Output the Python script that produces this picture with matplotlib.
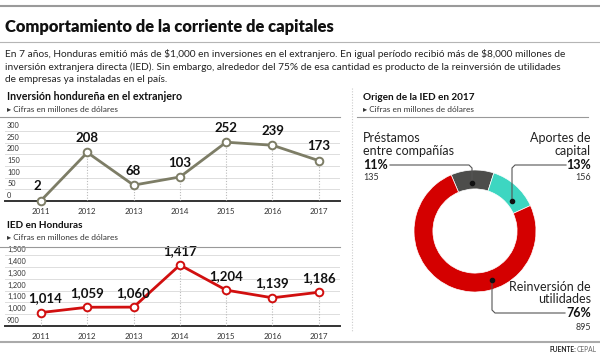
import matplotlib
matplotlib.use("Agg")
import matplotlib.pyplot as plt
from matplotlib import font_manager
from matplotlib.lines import Line2D

# ---------------- data ----------------
years = ["2011", "2012", "2013", "2014", "2015", "2016", "2017"]
inv_ext = [2, 208, 68, 103, 252, 239, 173]
ied = [1014, 1059, 1060, 1417, 1204, 1139, 1186]
inv_ext_ticks = [0, 50, 100, 150, 200, 250, 300]
ied_ticks = [900, 1000, 1100, 1200, 1300, 1400, 1500]
ied_tick_labels = ["900", "1,000", "1,100", "1,200", "1,300", "1,400", "1,500"]
origen_names = ["Préstamos\nentre compañías", "Aportes de\ncapital", "Reinversión de\nutilidades"]
origen_vals = [135, 156, 895]
origen_pct = ["11%", "13%", "76%"]

W, H = 600, 354
fig = plt.figure(figsize=(W / 100, H / 100), dpi=100)
fig.patch.set_facecolor("white")

FAM = ["Lato", "DejaVu Sans"]
BODY = ["Lato", "DejaVu Sans"]


def fx(x):
    return x / W


def fy(y):
    return 1 - y / H


def T(x, y, s, **kw):
    kw.setdefault("va", "center")
    kw.setdefault("family", BODY)
    kw.setdefault("color", "#222222")
    return fig.text(fx(x), fy(y), s, parse_math=False, **kw)


renderer = fig.canvas.get_renderer()


def fit(t, width):
    bb = t.get_window_extent(renderer=renderer)
    t.set_fontsize(t.get_fontsize() * width / bb.width)
    return t


def hline(x0, x1, y, color="#999999", lw=1.0, ls="-"):
    fig.add_artist(Line2D([fx(x0), fx(x1)], [fy(y), fy(y)], color=color, lw=lw, ls=ls))


def vline(x, y0, y1, color="#999999", lw=1.0, ls="-"):
    fig.add_artist(Line2D([fx(x), fx(x)], [fy(y0), fy(y1)], color=color, lw=lw, ls=ls))


# ---------------- header ----------------
hline(0, 600, 6, color="#9a9a9a", lw=1.5)
t = T(5, 27, "Comportamiento de la corriente de capitales", fontsize=14,
      weight="heavy", family=["Lato", "DejaVu Sans"], color="#111111")
fit(t, 330)
hline(0, 600, 42, color="#b5b5b5", lw=0.8)

para = ["En 7 años, Honduras emitió más de $1,000 en inversiones en el extranjero. En igual período recibió más de $8,000 millones de",
        "inversión extranjera directa (IED). Sin embargo, alrededor del 75% de esa cantidad es producto de la reinversión de utilidades",
        "de empresas ya instaladas en el país."]
t0 = T(5, 54, para[0], fontsize=7)
fit(t0, 557)
fs = t0.get_fontsize()
T(5, 67, para[1], fontsize=fs)
T(5, 79.5, para[2], fontsize=fs)

# ---------------- line charts ----------------
X0, X1 = 5, 340
x_first, step = 41, 46.3


def make_line_axes(y_base, y_top, v_base, k, ticks, tick_labels, vals, color):
    v_top = v_base + (y_base - y_top) / k
    ax = fig.add_axes([fx(X0), fy(y_base), (X1 - X0) / W, (y_base - y_top) / H])
    ax.set_xlim((X0 - x_first) / step, (X1 - x_first) / step)
    ax.set_ylim(v_base, v_top)
    ax.patch.set_alpha(0)
    for s in ax.spines.values():
        s.set_visible(False)
    ax.set_yticks([])
    xs = list(range(len(vals)))
    ax.set_xticks(xs)
    ax.set_xticklabels(years, fontsize=5.8, family=FAM, color="#333333")
    ax.tick_params(axis="x", length=0, pad=5)
    for tv, tl in zip(ticks, tick_labels):
        if tv != v_base:
            ax.axhline(tv, color="#dddddd", lw=0.7, zorder=0)
        ax.annotate(tl, (0, tv), xycoords=("axes fraction", "data"),
                    xytext=(1.5, 1.5), textcoords="offset points",
                    fontsize=5.3, family=FAM, color="#333333", va="bottom", ha="left")
    ax.axhline(v_base, color="#333333", lw=1.4, zorder=1, clip_on=False)
    ax.vlines(xs, v_base, vals, colors="#bbbbbb", lw=0.8, linestyles=(0, (1, 1.5)), zorder=1)
    ax.plot(xs, vals, color=color, lw=2.0, marker="o", ms=5.5, mfc="white",
            mec=color, mew=1.4, zorder=3, clip_on=False)
    return ax


# Inversión hondureña en el extranjero
t = T(7, 97, "Inversión hondureña en el extranjero", fontsize=8, weight="bold",
      color="#111111")
fit(t, 175)
t = T(7, 109, "▸ Cifras en millones de dólares", fontsize=6, family=FAM, color="#333333")
fit(t, 111)
hline(0, 340, 117, color="#999999", lw=0.8)
ax1 = make_line_axes(201, 120, 0, 0.2333, inv_ext_ticks, [str(v) for v in inv_ext_ticks],
                     inv_ext, "#7d7d66")
for i, v in enumerate(inv_ext):
    dx = -3 if i == 0 else 0
    ax1.annotate(str(v), (i, v), xytext=(dx, 6), textcoords="offset points",
                 ha="center", va="bottom", fontsize=9.5, weight="bold",
                 family=FAM, color="#111111")

# IED en Honduras
t = T(7, 226, "IED en Honduras", fontsize=8, weight="bold", color="#111111")
fit(t, 76)
t = T(7, 237, "▸ Cifras en millones de dólares", fontsize=6, family=FAM, color="#333333")
fit(t, 111)
hline(0, 340, 247, color="#999999", lw=0.8)
ax2 = make_line_axes(326, 250, 900, 0.118, ied_ticks, ied_tick_labels, ied, "#d10f0f")
for i, v in enumerate(ied):
    dx = 3 if i == 0 else 0
    ax2.annotate(f"{v:,}", (i, v), xytext=(dx, 6), textcoords="offset points",
                 ha="center", va="bottom", fontsize=9.5, weight="bold",
                 family=FAM, color="#111111")

# separators
vline(352, 88, 332, color="#cccccc", lw=0.8, ls=(0, (1, 1.5)))
hline(0, 600, 342, color="#aaaaaa", lw=1.5)
tc = T(597, 350, "CEPAL", fontsize=4.8, family=FAM, color="#666666", ha="right")
cw = tc.get_window_extent(renderer=renderer).width
T(597 - cw - 1, 350, "FUENTE:", fontsize=4.8, family=FAM, weight="bold",
  color="#222222", ha="right")

# ---------------- donut ----------------
t = T(363, 97, "Origen de la IED en 2017", fontsize=8, weight="bold", color="#111111")
fit(t, 112)
t = T(363, 109, "▸ Cifras en millones de dólares", fontsize=6, family=FAM, color="#333333")
fit(t, 111)
hline(357, 588, 117, color="#999999", lw=0.8)

cx, cy, R = 475, 231, 61
axd = fig.add_axes([fx(cx - R), fy(cy + R), 2 * R / W, 2 * R / H])
colors = ["#4d4d4b", "#3dd6c1", "#d40000"]
wedges, _ = axd.pie(origen_vals, colors=colors, startangle=113, counterclock=False,
                    radius=1, wedgeprops=dict(width=0.31, edgecolor="white", linewidth=0.5))
axd.set_xlim(-1, 1)
axd.set_ylim(-1, 1)
axd.set_aspect("equal")
axd.axis("off")

LBL = 9
T(363, 138, "Préstamos", fontsize=LBL, family=FAM, color="#222222")
T(363, 151, "entre compañías", fontsize=LBL, family=FAM, color="#222222")
T(363, 165, origen_pct[0], fontsize=LBL, weight="bold", family=FAM, color="#111111")
T(363, 178, str(origen_vals[0]), fontsize=6.5, family=FAM, color="#333333")

T(591, 138, "Aportes de", fontsize=LBL, family=FAM, color="#222222", ha="right")
T(591, 151, "capital", fontsize=LBL, family=FAM, color="#222222", ha="right")
T(591, 165, origen_pct[1], fontsize=LBL, weight="bold", family=FAM, color="#111111", ha="right")
T(591, 178, str(origen_vals[1]), fontsize=6.5, family=FAM, color="#333333", ha="right")

T(591, 287, "Reinversión de", fontsize=LBL, family=FAM, color="#222222", ha="right")
T(591, 299, "utilidades", fontsize=LBL, family=FAM, color="#222222", ha="right")
T(591, 313, origen_pct[2], fontsize=LBL, weight="bold", family=FAM, color="#111111", ha="right")
T(591, 327, str(origen_vals[2]), fontsize=6.5, family=FAM, color="#333333", ha="right")


def leader(pts, dot):
    xs = [fx(p[0]) for p in pts]
    ys = [fy(p[1]) for p in pts]
    fig.add_artist(Line2D(xs, ys, color="#555555", lw=0.8))
    fig.add_artist(Line2D([fx(dot[0])], [fy(dot[1])], marker="o", ms=3,
                          color="#111111", lw=0))


leader([(390, 165), (469, 165), (472, 168), (472, 183)], (472, 183))
leader([(566, 165), (515, 165), (512, 168), (512, 201)], (512, 201))
leader([(492, 280), (492, 310), (495, 313), (565, 313)], (492, 280))

fig.savefig("out.png", dpi=100, facecolor="white")
